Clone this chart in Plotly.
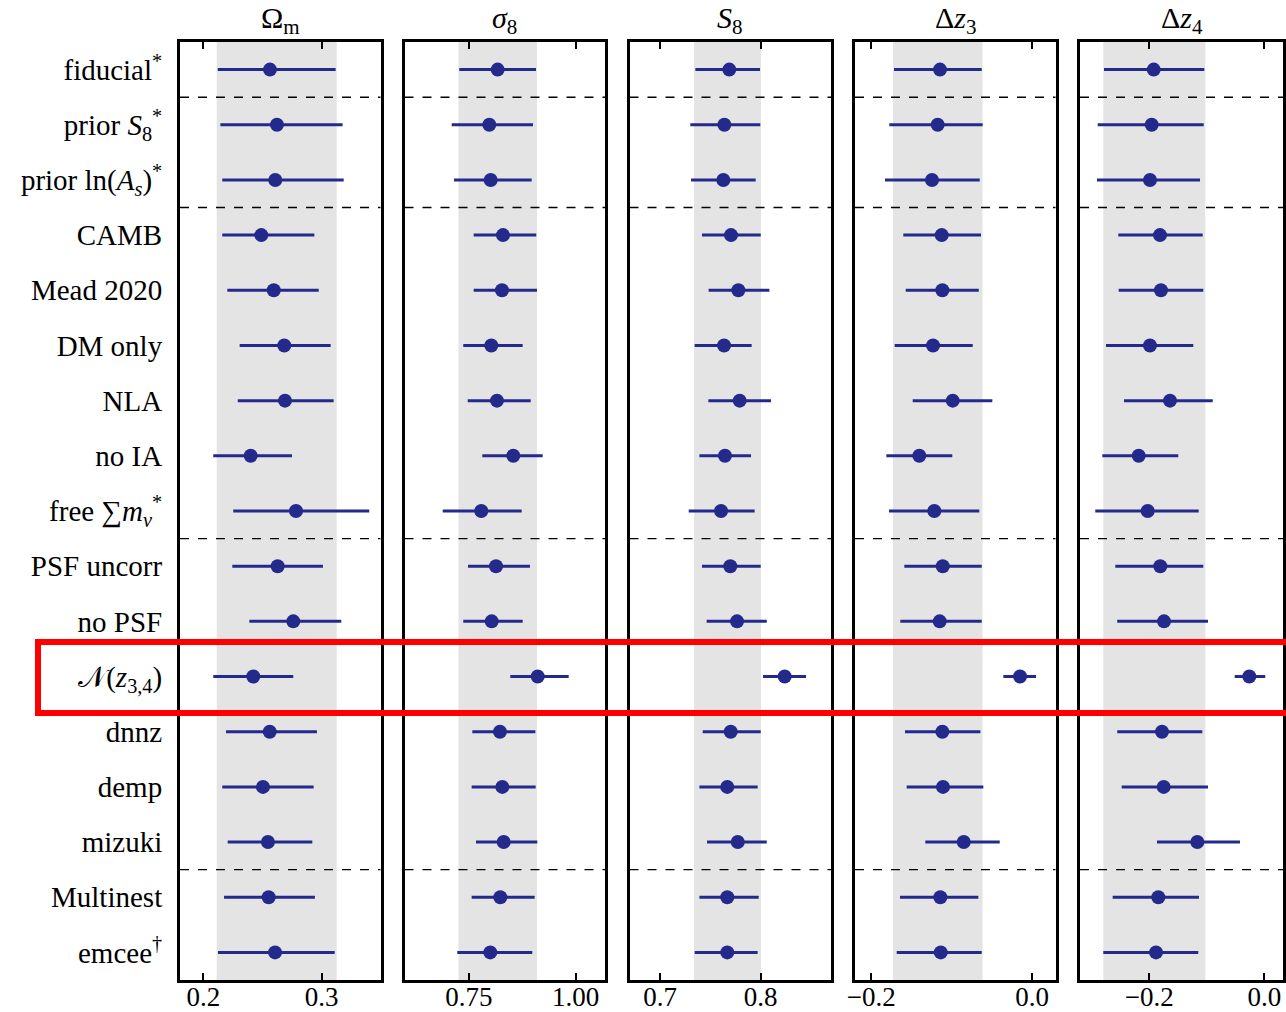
import plotly.graph_objects as go

# ---------------- data ----------------
rows = [
    "fiducial<sup>*</sup>",
    "prior <i>S</i><sub>8</sub><sup>*</sup>",
    "prior ln(<i>A<sub>s</sub></i>)<sup>*</sup>",
    "CAMB",
    "Mead 2020",
    "DM only",
    "NLA",
    "no IA",
    "free ∑<i>m<sub>ν</sub></i><sup>*</sup>",
    "PSF uncorr",
    "no PSF",
    "𝒩(<i>z</i><sub>3,4</sub>)",
    "dnnz",
    "demp",
    "mizuki",
    "Multinest",
    "emcee<sup>†</sup>",
]

params = ["Ω<sub>m</sub>", "<i>σ</i><sub>8</sub>", "<i>S</i><sub>8</sub>",
          "Δ<i>z</i><sub>3</sub>", "Δ<i>z</i><sub>4</sub>"]

# Omega_m
om_val = [0.2563, 0.2622, 0.2608, 0.2490, 0.2595, 0.2684, 0.2690, 0.2400, 0.2783,
          0.2628, 0.2760, 0.2422, 0.2561, 0.2504, 0.2546, 0.2552, 0.2606]
om_lo = [0.2122, 0.2144, 0.2160, 0.2160, 0.2203, 0.2307, 0.2291, 0.2084, 0.2253,
         0.2245, 0.2389, 0.2084, 0.2192, 0.2160, 0.2206, 0.2175, 0.2124]
om_hi = [0.3118, 0.3177, 0.3186, 0.2938, 0.2975, 0.3076, 0.3101, 0.2749, 0.3402,
         0.3011, 0.3166, 0.2760, 0.2960, 0.2932, 0.2921, 0.2943, 0.3110]

# sigma_8
s8_val = [0.8172, 0.7976, 0.8008, 0.8297, 0.8273, 0.8023, 0.8156, 0.8538, 0.7788,
          0.8133, 0.8032, 0.9110, 0.8226, 0.8281, 0.8313, 0.8234, 0.7999]
s8_lo = [0.7273, 0.7095, 0.7149, 0.7610, 0.7610, 0.7366, 0.7470, 0.7812, 0.6884,
         0.7477, 0.7366, 0.8468, 0.7578, 0.7562, 0.7664, 0.7562, 0.7226]
s8_hi = [0.9070, 0.9000, 0.8969, 0.9077, 0.9093, 0.8758, 0.8946, 0.9227, 0.8735,
         0.8929, 0.8758, 0.9836, 0.9055, 0.9062, 0.9101, 0.9039, 0.8983]

# S_8
S8_val = [0.7688, 0.7639, 0.7629, 0.7705, 0.7778, 0.7636, 0.7791, 0.7645, 0.7606,
          0.7698, 0.7765, 0.8238, 0.7702, 0.7668, 0.7772, 0.7668, 0.7668]
S8_lo = [0.7351, 0.7301, 0.7308, 0.7417, 0.7483, 0.7344, 0.7480, 0.7391, 0.7285,
         0.7417, 0.7463, 0.8023, 0.7424, 0.7391, 0.7467, 0.7391, 0.7344]
S8_hi = [0.7993, 0.7996, 0.7950, 0.8000, 0.8086, 0.7910, 0.8102, 0.7904, 0.7940,
         0.8000, 0.8060, 0.8450, 0.8000, 0.7970, 0.8060, 0.7980, 0.7970]

# Delta z_3
dz3_val = [-0.1145, -0.1174, -0.1245, -0.1124, -0.1116, -0.1232, -0.0987, -0.1403, -0.1216,
           -0.1111, -0.1149, -0.0149, -0.1116, -0.1108, -0.0850, -0.1141, -0.1136]
dz3_lo = [-0.1717, -0.1776, -0.1830, -0.1602, -0.1572, -0.1709, -0.1485, -0.1813, -0.1780,
          -0.1589, -0.1639, -0.0357, -0.1581, -0.1560, -0.1328, -0.1643, -0.1684]
dz3_hi = [-0.0626, -0.0614, -0.0651, -0.0635, -0.0663, -0.0738, -0.0494, -0.0992, -0.0656,
          -0.0626, -0.0626, 0.0050, -0.0643, -0.0606, -0.0402, -0.0668, -0.0626]

# Delta z_4
dz4_val = [-0.1923, -0.1958, -0.1988, -0.1814, -0.1797, -0.1988, -0.1640, -0.2184, -0.2028,
           -0.1809, -0.1744, -0.0261, -0.1779, -0.1750, -0.1165, -0.1843, -0.1883]
dz4_lo = [-0.2788, -0.2897, -0.2910, -0.2539, -0.2532, -0.2753, -0.2440, -0.2817, -0.2939,
          -0.2591, -0.2557, -0.0515, -0.2557, -0.2480, -0.1866, -0.2637, -0.2800]
dz4_hi = [-0.1043, -0.1054, -0.1118, -0.1071, -0.1061, -0.1235, -0.0897, -0.1496, -0.1141,
          -0.1061, -0.0979, 0.0017, -0.1078, -0.0979, -0.0423, -0.1136, -0.1148]

# reference bands (grey)
band_lo = [0.2113, 0.7254, 0.7338, -0.1730, -0.2800]
band_hi = [0.3127, 0.9094, 0.8003, -0.0616, -0.1026]

# axis ranges and ticks
x_ranges = [[0.1803, 0.3497], [0.5989, 1.0687], [0.6697, 0.8698],
            [-0.2203, 0.0292], [-0.3205, 0.0325]]
tick_vals = [[0.2, 0.3], [0.75, 1.00], [0.7, 0.8], [-0.2, 0.0], [-0.2, 0.0]]
tick_text = [["0.2", "0.3"], ["0.75", "1.00"], ["0.7", "0.8"],
             ["−0.2", "0.0"], ["−0.2", "0.0"]]

separators = [0.5, 2.5, 8.5, 14.5]
highlight_row = 11

# ---------------- layout geometry ----------------
W, H = 1286, 1012
panel_px = [(180, 380.5), (404.5, 605), (629.5, 831), (855, 1055.5), (1080, 1283)]
y_top_px, y_bot_px = 42, 980

FONT = "Liberation Serif, Times New Roman, serif"
COL = "#232a8c"

vals = [om_val, s8_val, S8_val, dz3_val, dz4_val]
los = [om_lo, s8_lo, S8_lo, dz3_lo, dz4_lo]
his = [om_hi, s8_hi, S8_hi, dz3_hi, dz4_hi]

fig = go.Figure()
ypos = list(range(len(rows)))

shapes = []
annotations = []
for i in range(5):
    xa = "x" if i == 0 else f"x{i+1}"
    ya = "y" if i == 0 else f"y{i+1}"
    v, lo, hi = vals[i], los[i], his[i]
    fig.add_trace(go.Scatter(
        x=v, y=ypos, xaxis=xa, yaxis=ya, mode="markers",
        marker=dict(color=COL, size=14),
        error_x=dict(type="data", symmetric=False,
                     array=[h - c for h, c in zip(hi, v)],
                     arrayminus=[c - l for c, l in zip(v, lo)],
                     color=COL, thickness=3, width=0),
        showlegend=False, hoverinfo="skip"))

    dom_x = [panel_px[i][0] / W, panel_px[i][1] / W]
    dom_y = [1 - y_bot_px / H, 1 - y_top_px / H]
    xaxis = dict(domain=dom_x, range=x_ranges[i], tickvals=tick_vals[i],
                 ticktext=tick_text[i], ticks="inside", ticklen=7, tickwidth=1.5,
                 tickcolor="black", showline=True, linewidth=3, linecolor="black",
                 mirror="ticks", showgrid=False, zeroline=False, automargin=False,
                 ticklabelstandoff=-9,
                 tickfont=dict(family=FONT, size=27, color="black"),
                 anchor=ya)
    yaxis = dict(domain=dom_y, range=[16.5, -0.5], showline=True, linewidth=3,
                 linecolor="black", mirror=True, showgrid=False, zeroline=False,
                 anchor=xa, ticks="", automargin=False)
    if i == 0:
        yaxis.update(tickvals=ypos, ticktext=rows, showticklabels=True,
                     ticklabelstandoff=9,
                     tickfont=dict(family=FONT, size=29, color="black"))
    else:
        yaxis.update(showticklabels=False)
    key = "" if i == 0 else str(i + 1)
    fig.update_layout(**{f"xaxis{key}": xaxis, f"yaxis{key}": yaxis})

    # grey band
    shapes.append(dict(type="rect", xref=xa, yref=f"{ya} domain",
                       x0=band_lo[i], x1=band_hi[i], y0=0, y1=1,
                       fillcolor="#e4e4e4", line=dict(width=0), layer="below"))
    # dashed separators
    for s in separators:
        shapes.append(dict(type="line", xref=f"{xa} domain", yref=ya,
                           x0=0, x1=1, y0=s, y1=s,
                           line=dict(color="black", width=1.4, dash="dash"),
                           layer="below"))
    # panel title
    annotations.append(dict(text=params[i], xref="paper", yref="paper",
                            x=(dom_x[0] + dom_x[1]) / 2, y=1 - 20 / H,
                            xanchor="center", yanchor="middle", showarrow=False,
                            font=dict(family=FONT, size=30, color="black")))

# red highlight box
shapes.append(dict(type="rect", xref="paper", yref="paper",
                   x0=38 / W, x1=1.02, y0=1 - 713 / H, y1=1 - 642 / H,
                   line=dict(color="#ff0000", width=6), fillcolor="rgba(0,0,0,0)",
                   layer="above"))

fig.update_layout(width=W, height=H,
                  margin=dict(l=0, r=0, t=0, b=0, autoexpand=False),
                  plot_bgcolor="rgba(0,0,0,0)", paper_bgcolor="white",
                  shapes=shapes, annotations=annotations,
                  font=dict(family=FONT, color="black"))

fig.write_html("out.html")
